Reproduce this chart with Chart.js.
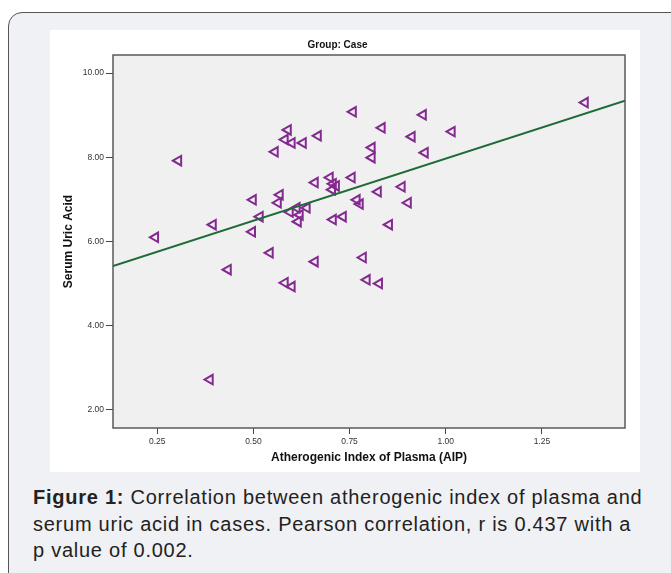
<!DOCTYPE html>
<html>
<head>
<meta charset="utf-8">
<script src="https://cdn.jsdelivr.net/npm/chart.js@4"></script>
<style>
  html, body { margin: 0; padding: 0; background: #fff; overflow: hidden; }
  body { width: 671px; height: 573px; position: relative; font-family: 'Liberation Sans', Arial, sans-serif; }
  .card {
    position: absolute; left: 8px; top: 12px; width: 720px; height: 620px;
    background: #f0f1f4; border: 1.5px solid #555; border-radius: 14px; box-sizing: border-box;
  }
  .figure {
    position: absolute; left: 50px; top: 30px; width: 590px; height: 442px; background: #fff;
  }
  .caption {
    position: absolute; left: 33px; top: 484px; white-space: nowrap;
    font-size: 20px; line-height: 26.5px; color: #222; letter-spacing: 0.75px;
  }
  .caption b { font-weight: bold; }
</style>
</head>
<body>
<div class="card"></div>
<div class="figure"><canvas id="myChart" width="590" height="442"></canvas></div>
<div class="caption"><b>Figure 1:</b> Correlation between atherogenic index of plasma and<br>serum uric acid in cases. Pearson correlation, r is 0.437 with a<br>p value of 0.002.</div>
<script>
// data
const aip = [
  0.245, 0.305, 0.395, 0.387, 0.434, 0.499, 0.497, 0.517, 0.543, 0.556,
  0.569, 0.564, 0.590, 0.582, 0.600, 0.629, 0.668, 0.595, 0.613, 0.621,
  0.616, 0.639, 0.582, 0.600, 0.660, 0.660, 0.699, 0.707, 0.705, 0.715,
  0.707, 0.733, 0.756, 0.759, 0.769, 0.777, 0.785, 0.795, 0.827, 0.808,
  0.808, 0.834, 0.912, 0.941, 0.946, 1.016, 1.362, 0.853, 0.824, 0.886,
  0.902
];
const uricAcid = [
  6.10, 7.92, 6.40, 2.72, 5.33, 6.99, 6.23, 6.59, 5.73, 8.13,
  7.11, 6.92, 8.65, 8.42, 8.34, 8.34, 8.51, 6.70, 6.80, 6.63,
  6.47, 6.80, 5.02, 4.93, 5.52, 7.40, 7.52, 7.37, 7.23, 7.32,
  6.52, 6.59, 7.52, 9.08, 6.99, 6.89, 5.62, 5.09, 5.00, 8.23,
  7.99, 8.70, 8.49, 9.01, 8.11, 8.61, 9.30, 6.40, 7.18, 7.30,
  6.92
];
const fitIntercept = 5.02;
const fitSlope = 2.95;

const xTicks = [0.25, 0.50, 0.75, 1.00, 1.25];
const yTicks = [2, 4, 6, 8, 10];
const xMin = 0.135, xMax = 1.466;
const yMin = 1.57, yMax = 10.43;

const points = aip.map((x, i) => ({x: x, y: uricAcid[i]}));
const fitLine = [xMin, xMax].map(x => ({x: x, y: fitIntercept + fitSlope * x}));

Chart.defaults.font.family = "'Liberation Sans', Arial, sans-serif";

// grey plot area with frame
const plotFrame = {
  id: 'plotFrame',
  beforeDraw(chart) {
    const {ctx, chartArea: {left, top, width, height}} = chart;
    ctx.save();
    ctx.fillStyle = '#f0f0f0';
    ctx.fillRect(left, top, width, height);
    ctx.restore();
  },
  beforeDatasetsDraw(chart) {
    const {ctx, chartArea: {left, top, width, height}} = chart;
    ctx.save();
    ctx.strokeStyle = '#5a5a5a';
    ctx.lineWidth = 1.5;
    ctx.strokeRect(left, top, width, height);
    ctx.restore();
  }
};

const ctx = document.getElementById('myChart');
new Chart(ctx, {
  type: 'scatter',
  data: {
    datasets: [{
      type: 'line',
      data: fitLine,
      borderColor: '#1f6b38',
      borderWidth: 2,
      pointRadius: 0,
      fill: false,
      order: 0,
    },
    {
      data: points,
      pointStyle: 'triangle',
      rotation: -90,
      pointRadius: 5.5,
      pointBorderWidth: 2,
      pointBorderColor: '#83298f',
      pointBackgroundColor: 'rgba(0,0,0,0)',
      order: 1,
    }]
  },
  options: {
    responsive: false,
    animation: false,
    layout: { padding: {left: 0, right: 15, top: 0, bottom: 0} },
    scales: {
      x: {
        type: 'linear',
        min: xMin,
        max: xMax,
        afterBuildTicks: scale => { scale.ticks = xTicks.map(v => ({value: v})); },
        afterFit: scale => { scale.height = 44; },
        border: { display: false },
        grid: { drawOnChartArea: false, drawTicks: true, tickLength: 6, color: '#444', lineWidth: 1 },
        ticks: {
          padding: 3,
          color: '#333',
          font: { size: 8.5 },
          callback: v => v.toFixed(2),
        },
        title: {
          display: true,
          text: 'Atherogenic Index of Plasma (AIP)',
          color: '#111',
          font: { size: 12, weight: 'bold' },
          padding: {top: 0, bottom: 7},
        },
      },
      y: {
        type: 'linear',
        min: yMin,
        max: yMax,
        afterBuildTicks: scale => { scale.ticks = yTicks.map(v => ({value: v})); },
        afterFit: scale => { scale.width = 63; },
        border: { display: false },
        grid: { drawOnChartArea: false, drawTicks: true, tickLength: 7, color: '#444', lineWidth: 1 },
        ticks: {
          padding: 2,
          color: '#333',
          font: { size: 8.5 },
          callback: v => v.toFixed(2),
        },
        title: {
          display: true,
          text: 'Serum Uric Acid',
          color: '#111',
          font: { size: 12, weight: 'bold' },
          padding: {top: 11, bottom: 0},
        },
      },
    },
    plugins: {
      legend: { display: false },
      tooltip: { enabled: false },
      title: {
        display: true,
        text: 'Group: Case',
        color: '#111',
        font: { size: 10, weight: 'bold' },
        padding: {top: 9, bottom: 4},
      },
    }
  },
  plugins: [plotFrame]
});
</script>
</body>
</html>
